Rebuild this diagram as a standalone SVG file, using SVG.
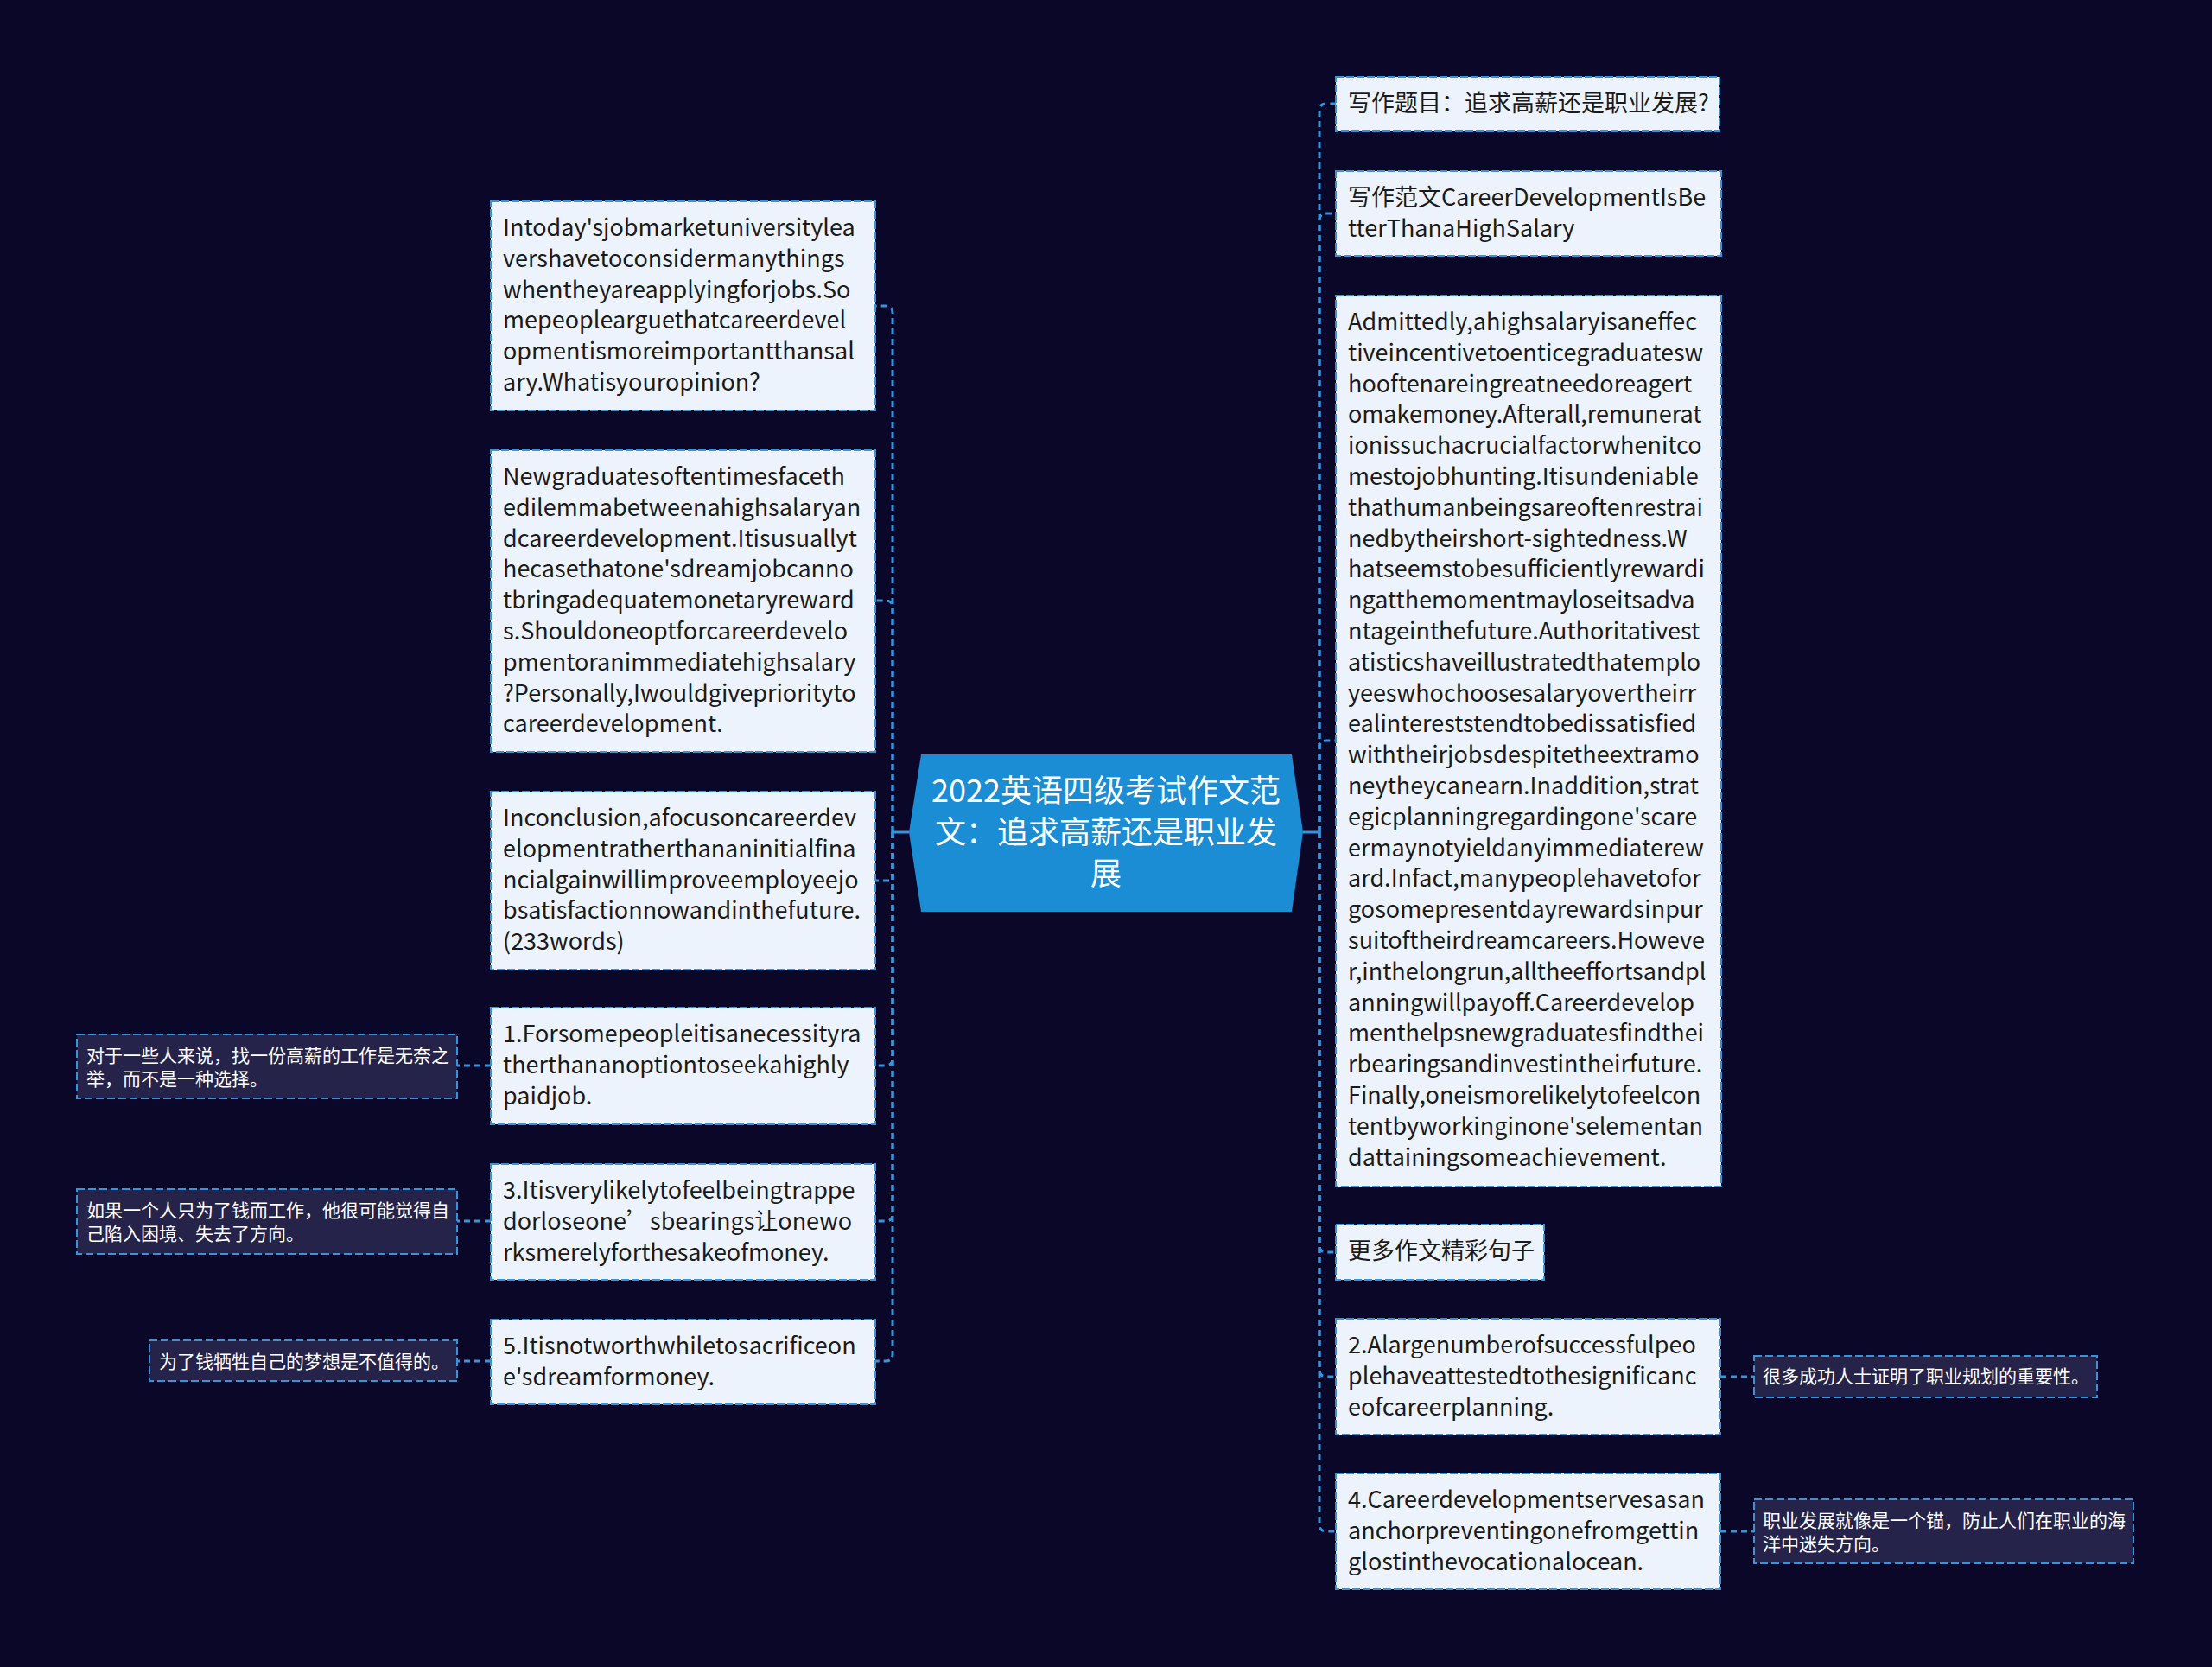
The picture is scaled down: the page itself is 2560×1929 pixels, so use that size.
<svg xmlns="http://www.w3.org/2000/svg" width="2560" height="1929" viewBox="0 0 2560 1929">
<style>
.bg{fill:#0a0729}
.box{fill:#edf3fc;stroke:#3a93d6;stroke-width:2;stroke-dasharray:9 3}
.sub{fill:#25234a;stroke:#3a93d6;stroke-width:2;stroke-dasharray:9 4}
.t{font-family:"Noto Sans CJK SC","Noto Sans",sans-serif;font-size:27px;fill:#1a1a1a}
.st{font-family:"Noto Sans CJK SC",sans-serif;font-size:21px;fill:#ffffff}
.ct{font-family:"Noto Sans CJK SC",sans-serif;font-size:36px;fill:#ffffff;text-anchor:middle}
.dl{fill:none;stroke:#3596dc;stroke-width:3;stroke-dasharray:7 5}
.sl{fill:none;stroke:#3596dc;stroke-width:3}
</style>
<rect class="bg" x="0" y="0" width="2560" height="1929"/>
<g id="connectors">
<path class="sl" d="M1052 963H1033"/>
<path class="dl" d="M1033 963V362Q1033 354 1025 354H1013"/>
<path class="dl" d="M1033 963V703Q1033 695 1025 695H1013"/>
<path class="dl" d="M1033 963V1019H1013"/>
<path class="dl" d="M1033 963V1225Q1033 1233 1025 1233H1013"/>
<path class="dl" d="M1033 963V1405Q1033 1413 1025 1413H1013"/>
<path class="dl" d="M1033 963V1567Q1033 1575 1025 1575H1013"/>
<path class="sl" d="M1508 963H1527"/>
<path class="dl" d="M1527 963V128Q1527 120 1535 120H1546"/>
<path class="dl" d="M1527 963V255Q1527 247 1535 247H1546"/>
<path class="dl" d="M1527 963V865Q1527 857 1535 857H1546"/>
<path class="dl" d="M1527 963V1441Q1527 1449 1535 1449H1546"/>
<path class="dl" d="M1527 963V1585Q1527 1593 1535 1593H1546"/>
<path class="dl" d="M1527 963V1764Q1527 1772 1535 1772H1546"/>
<path class="dl" d="M568 1233H529"/>
<path class="dl" d="M568 1413H529"/>
<path class="dl" d="M568 1575H529"/>
<path class="dl" d="M1991 1593H2030"/>
<path class="dl" d="M1991 1772H2030"/>
</g>
<g id="center">
<polygon points="1066,873 1495,873 1508,963 1495,1055 1066,1055 1052,963" fill="#1a8dd4"/>
<text class="ct"><tspan x="1280" y="928">2022英语四级考试作文范</tspan><tspan x="1280" y="976">文：追求高薪还是职业发</tspan><tspan x="1280" y="1024">展</tspan></text>
</g>
<g id="n-left1">
<rect class="box" x="568" y="233" width="445" height="242"/>
<text class="t"><tspan x="582" y="273">Intoday'sjobmarketuniversitylea</tspan><tspan x="582" dy="35.8">vershavetoconsidermanythings</tspan><tspan x="582" dy="35.8">whentheyareapplyingforjobs.So</tspan><tspan x="582" dy="35.8">mepeoplearguethatcareerdevel</tspan><tspan x="582" dy="35.8">opmentismoreimportantthansal</tspan><tspan x="582" dy="35.8">ary.Whatisyouropinion?</tspan></text>
</g>
<g id="n-left2">
<rect class="box" x="568" y="521" width="445" height="349"/>
<text class="t"><tspan x="582" y="561">Newgraduatesoftentimesfaceth</tspan><tspan x="582" dy="35.8">edilemmabetweenahighsalaryan</tspan><tspan x="582" dy="35.8">dcareerdevelopment.Itisusuallyt</tspan><tspan x="582" dy="35.8">hecasethatone'sdreamjobcanno</tspan><tspan x="582" dy="35.8">tbringadequatemonetaryreward</tspan><tspan x="582" dy="35.8">s.Shouldoneoptforcareerdevelo</tspan><tspan x="582" dy="35.8">pmentoranimmediatehighsalary</tspan><tspan x="582" dy="35.8">?Personally,Iwouldgivepriorityto</tspan><tspan x="582" dy="35.8">careerdevelopment.</tspan></text>
</g>
<g id="n-left3">
<rect class="box" x="568" y="916" width="445" height="206"/>
<text class="t"><tspan x="582" y="956">Inconclusion,afocusoncareerdev</tspan><tspan x="582" dy="35.8">elopmentratherthananinitialfina</tspan><tspan x="582" dy="35.8">ncialgainwillimproveemployeejo</tspan><tspan x="582" dy="35.8">bsatisfactionnowandinthefuture.</tspan><tspan x="582" dy="35.8">(233words)</tspan></text>
</g>
<g id="n-left4">
<rect class="box" x="568" y="1166" width="445" height="135"/>
<text class="t"><tspan x="582" y="1206">1.Forsomepeopleitisanecessityra</tspan><tspan x="582" dy="35.8">therthananoptiontoseekahighly</tspan><tspan x="582" dy="35.8">paidjob.</tspan></text>
</g>
<g id="n-left5">
<rect class="box" x="568" y="1347" width="445" height="134"/>
<text class="t"><tspan x="582" y="1387">3.Itisverylikelytofeelbeingtrappe</tspan><tspan x="582" dy="35.8">dorloseone’sbearings让onewo</tspan><tspan x="582" dy="35.8">rksmerelyforthesakeofmoney.</tspan></text>
</g>
<g id="n-left6">
<rect class="box" x="568" y="1527" width="445" height="98"/>
<text class="t"><tspan x="582" y="1567">5.Itisnotworthwhiletosacrificeon</tspan><tspan x="582" dy="35.8">e'sdreamformoney.</tspan></text>
</g>
<g id="s-left4">
<rect class="sub" x="89" y="1197" width="440" height="74"/>
<text class="st"><tspan x="100" y="1229">对于一些人来说，找一份高薪的工作是无奈之</tspan><tspan x="100" y="1256">举，而不是一种选择。</tspan></text>
</g>
<g id="s-left5">
<rect class="sub" x="89" y="1376" width="440" height="75"/>
<text class="st"><tspan x="100" y="1408">如果一个人只为了钱而工作，他很可能觉得自</tspan><tspan x="100" y="1435">己陷入困境、失去了方向。</tspan></text>
</g>
<g id="s-left6">
<rect class="sub" x="173" y="1551" width="356" height="47"/>
<text class="st"><tspan x="184" y="1583">为了钱牺牲自己的梦想是不值得的。</tspan></text>
</g>
<g id="n-right1">
<rect class="box" x="1546" y="89" width="444" height="63"/>
<text class="t"><tspan x="1560" y="129">写作题目：追求高薪还是职业发展?</tspan></text>
</g>
<g id="n-right2">
<rect class="box" x="1546" y="198" width="446" height="98"/>
<text class="t"><tspan x="1560" y="238">写作范文CareerDevelopmentIsBe</tspan><tspan x="1560" dy="35.8">tterThanaHighSalary</tspan></text>
</g>
<g id="n-right3">
<rect class="box" x="1546" y="342" width="446" height="1031"/>
<text class="t"><tspan x="1560" y="382">Admittedly,ahighsalaryisaneffec</tspan><tspan x="1560" dy="35.8">tiveincentivetoenticegraduatesw</tspan><tspan x="1560" dy="35.8">hooftenareingreatneedoreagert</tspan><tspan x="1560" dy="35.8">omakemoney.Afterall,remunerat</tspan><tspan x="1560" dy="35.8">ionissuchacrucialfactorwhenitco</tspan><tspan x="1560" dy="35.8">mestojobhunting.Itisundeniable</tspan><tspan x="1560" dy="35.8">thathumanbeingsareoftenrestrai</tspan><tspan x="1560" dy="35.8">nedbytheirshort-sightedness.W</tspan><tspan x="1560" dy="35.8">hatseemstobesufficientlyrewardi</tspan><tspan x="1560" dy="35.8">ngatthemomentmayloseitsadva</tspan><tspan x="1560" dy="35.8">ntageinthefuture.Authoritativest</tspan><tspan x="1560" dy="35.8">atisticshaveillustratedthatemplo</tspan><tspan x="1560" dy="35.8">yeeswhochoosesalaryovertheirr</tspan><tspan x="1560" dy="35.8">ealintereststendtobedissatisfied</tspan><tspan x="1560" dy="35.8">withtheirjobsdespitetheextramo</tspan><tspan x="1560" dy="35.8">neytheycanearn.Inaddition,strat</tspan><tspan x="1560" dy="35.8">egicplanningregardingone'scare</tspan><tspan x="1560" dy="35.8">ermaynotyieldanyimmediaterew</tspan><tspan x="1560" dy="35.8">ard.Infact,manypeoplehavetofor</tspan><tspan x="1560" dy="35.8">gosomepresentdayrewardsinpur</tspan><tspan x="1560" dy="35.8">suitoftheirdreamcareers.Howeve</tspan><tspan x="1560" dy="35.8">r,inthelongrun,alltheeffortsandpl</tspan><tspan x="1560" dy="35.8">anningwillpayoff.Careerdevelop</tspan><tspan x="1560" dy="35.8">menthelpsnewgraduatesfindthei</tspan><tspan x="1560" dy="35.8">rbearingsandinvestintheirfuture.</tspan><tspan x="1560" dy="35.8">Finally,oneismorelikelytofeelcon</tspan><tspan x="1560" dy="35.8">tentbyworkinginone'selementan</tspan><tspan x="1560" dy="35.8">dattainingsomeachievement.</tspan></text>
</g>
<g id="n-right4">
<rect class="box" x="1546" y="1417" width="241" height="64"/>
<text class="t"><tspan x="1560" y="1457">更多作文精彩句子</tspan></text>
</g>
<g id="n-right5">
<rect class="box" x="1546" y="1526" width="445" height="134"/>
<text class="t"><tspan x="1560" y="1566">2.Alargenumberofsuccessfulpeo</tspan><tspan x="1560" dy="35.8">plehaveattestedtothesignificanc</tspan><tspan x="1560" dy="35.8">eofcareerplanning.</tspan></text>
</g>
<g id="n-right6">
<rect class="box" x="1546" y="1705" width="445" height="134"/>
<text class="t"><tspan x="1560" y="1745">4.Careerdevelopmentservesasan</tspan><tspan x="1560" dy="35.8">anchorpreventingonefromgettin</tspan><tspan x="1560" dy="35.8">glostinthevocationalocean.</tspan></text>
</g>
<g id="s-right5">
<rect class="sub" x="2030" y="1569" width="397" height="48"/>
<text class="st"><tspan x="2040" y="1600">很多成功人士证明了职业规划的重要性。</tspan></text>
</g>
<g id="s-right6">
<rect class="sub" x="2030" y="1735" width="439" height="74"/>
<text class="st"><tspan x="2040" y="1767">职业发展就像是一个锚，防止人们在职业的海</tspan><tspan x="2040" y="1794">洋中迷失方向。</tspan></text>
</g>
</svg>
